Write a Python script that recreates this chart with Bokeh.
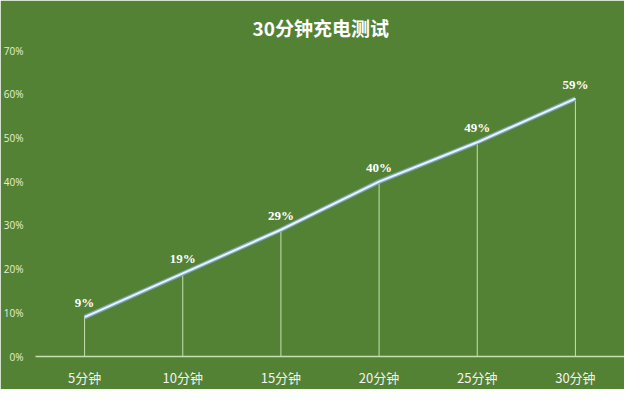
from bokeh.plotting import figure
from bokeh.models import Range1d, FixedTicker, ColumnDataSource, LabelSet, NumeralTickFormatter
from bokeh.embed import file_html
from bokeh.resources import INLINE

title = "30分钟充电测试"
categories = ["5分钟", "10分钟", "15分钟", "20分钟", "25分钟", "30分钟"]
values = [9, 19, 29, 40, 49, 59]
y_ticks = [0, 10, 20, 30, 40, 50, 60, 70]

BG = "#548235"
FONT = "Noto Sans CJK SC"
NUMFONT = "Open Sans"

src = ColumnDataSource(dict(x=categories, y=values, zero=[0] * len(values),
                            label=[f"{v}%" for v in values]))

p = figure(width=624, height=389, x_range=categories, y_range=Range1d(0, 70),
           output_backend="svg", toolbar_location=None,
           background_fill_color=BG, border_fill_color=BG,
           outline_line_color=BG, outline_line_width=3,
           min_border_left=32, min_border_right=0, min_border_top=50, min_border_bottom=25)

p.title.text = title
p.title.align = "left"
p.title.offset = 217
p.title.standoff = 20
p.title.text_color = "white"
p.title.text_font = FONT
p.title.text_font_size = "19px"
p.title.text_font_style = "bold"

p.xgrid.visible = False
p.ygrid.visible = False

p.yaxis.ticker = FixedTicker(ticks=y_ticks)
p.yaxis.formatter = NumeralTickFormatter(format="0")
p.yaxis.major_label_overrides = {t: f"{t}%" for t in y_ticks}
p.yaxis.axis_line_color = None
p.yaxis.major_tick_line_color = None
p.yaxis.minor_tick_line_color = None
p.yaxis.major_label_text_color = "#e2f0d9"
p.yaxis.major_label_text_font = NUMFONT
p.yaxis.major_label_text_font_size = "10px"
p.yaxis.major_label_standoff = 6

p.xaxis.axis_line_color = "#c5e0b4"
p.xaxis.axis_line_width = 1.5
p.xaxis.major_tick_line_color = None
p.xaxis.minor_tick_line_color = None
p.xaxis.major_label_text_color = "#f2f2f2"
p.xaxis.major_label_text_font = FONT
p.xaxis.major_label_text_font_size = "13px"
p.xaxis.major_label_standoff = 5

p.segment(x0="x", y0="zero", x1="x", y1="y", source=src, line_color="#c5e0b4", line_width=1)
p.line("x", "y", source=src, line_color="#7ea6bf", line_width=4.5)
p.line("x", "y", source=src, line_color="#eaf3fa", line_width=2)

labels = LabelSet(x="x", y="y", text="label", source=src, text_align="center",
                  text_baseline="bottom", y_offset=7, text_color="white",
                  text_font=NUMFONT, text_font_size="13px", text_font_style="bold")
p.add_layout(labels)

open("out.html", "w").write(file_html(p, INLINE))
